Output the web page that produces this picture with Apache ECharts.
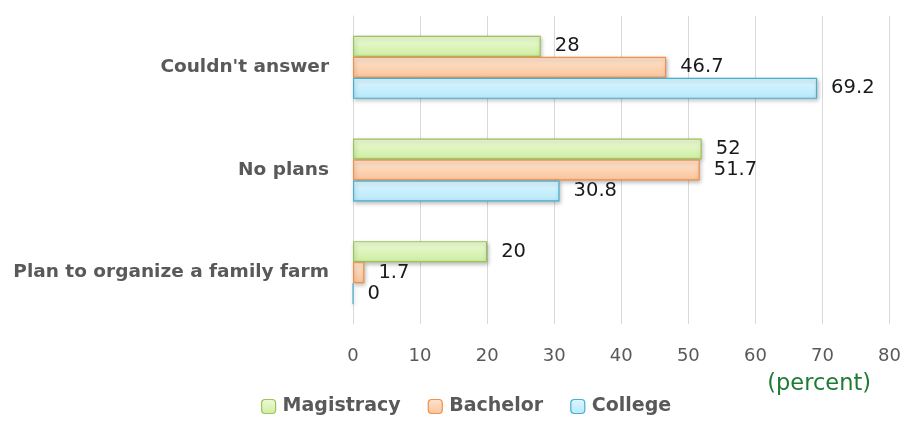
<!DOCTYPE html>
<html><head><meta charset="utf-8">
<script src="https://cdn.jsdelivr.net/npm/echarts@6/dist/echarts.min.js"></script>
<style>html,body{margin:0;padding:0;background:#fff}#c{width:904px;height:421px}</style>
</head><body><div id="c"></div>
<script>
const categories = ["Plan to organize a family farm", "No plans", "Couldn't answer"];
const magistracy = [20, 52, 28];
const bachelor = [1.7, 51.7, 46.7];
const college = [0, 30.8, 69.2];
const xTicks = [0, 10, 20, 30, 40, 50, 60, 70, 80];

const FONT = 'DejaVu Sans';
function grad(c1, c2) {
  return new echarts.graphic.LinearGradient(0, 0, 0, 1, [{offset: 0, color: c1}, {offset: 1, color: c2}]);
}
function mk(name, data, fill1, fill2, border) {
  return {
    name, type: 'bar', data, barWidth: 21, barGap: '0%',
    itemStyle: {color: grad(fill1, fill2), borderColor: border, borderWidth: 1.2,
      shadowColor: 'rgba(0,0,0,0.25)', shadowBlur: 4, shadowOffsetX: 1, shadowOffsetY: 2},
    label: {show: true, position: 'right', distance: 14, color: '#1a1a1a', fontSize: 19.5, fontFamily: FONT},
    legendIcon: 'rect'
  };
}
const chart = echarts.init(document.getElementById('c'));
chart.setOption({
  animation: false,
  grid: {left: 353, right: 14, top: 16, bottom: 97},
  legend: {
    bottom: 0, left: 256, itemWidth: 14, itemHeight: 14, itemGap: 27,
    itemStyle: {borderWidth: 1.2},
    textStyle: {color: '#595959', fontSize: 19, fontWeight: 'bold', fontFamily: FONT, padding: [0, 0, 0, 2]},
    data: ['Magistracy', 'Bachelor', 'College']
  },
  xAxis: {
    type: 'value', min: 0, max: 80, interval: 10,
    axisLine: {show: false}, axisTick: {show: false},
    splitLine: {lineStyle: {color: '#d9d9d9'}},
    axisLabel: {color: '#595959', fontSize: 18, fontFamily: FONT, margin: 23,
      formatter: v => xTicks.includes(v) ? String(v) : ''}
  },
  yAxis: {
    type: 'category', data: categories,
    axisLine: {lineStyle: {color: '#d9d9d9'}}, axisTick: {show: false},
    axisLabel: {color: '#595959', fontSize: 18.5, fontWeight: 'bold', fontFamily: FONT, margin: 24}
  },
  graphic: [{type: 'text', right: 33, top: 373,
    style: {text: '(percent)', fill: '#1e7b34', fontSize: 22.5, fontFamily: FONT}}],
  series: [
    mk('Magistracy', magistracy, '#eefbd9', '#cdeea0', '#9bc45a'),
    mk('Bachelor', bachelor, '#fde4cf', '#fbc49a', '#f0904a'),
    mk('College', college, '#dcf6ff', '#b7e9fb', '#4aaed0')
  ]
});
</script></body></html>
